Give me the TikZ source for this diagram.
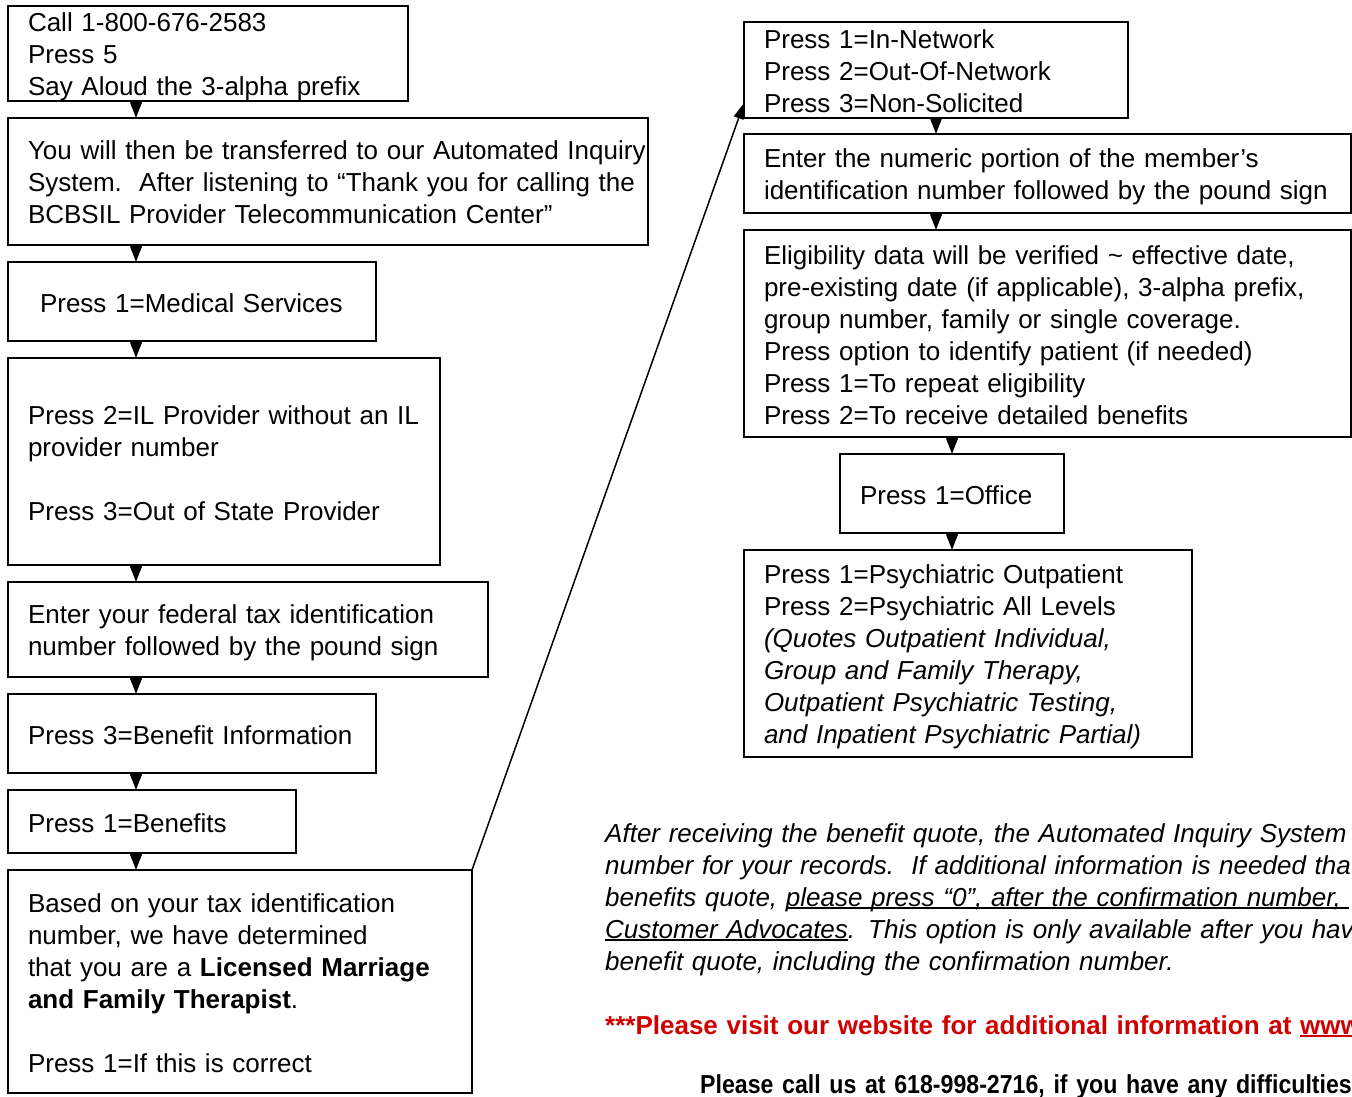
\documentclass[tikz,border=0pt]{standalone}
\usepackage{fontspec}
\setmainfont{Liberation Sans}
\newfontfamily\narrowfont{Liberation Sans}[FakeStretch=0.89]
\usetikzlibrary{arrows.meta}
\definecolor{webred}{RGB}{208,0,0}
\newcommand{\uln}[1]{\leavevmode\setbox0\hbox{#1}\rlap{\rule[-3pt]{\wd0}{2pt}}\box0}

\begin{document}
\begin{tikzpicture}[x=1pt,y=-1pt,
  box/.style={draw, line width=2pt, anchor=north west, align=left,
    inner xsep=20pt, inner ysep=0pt, outer sep=0pt,
    font=\fontsize{26}{32}\selectfont,
    execute at begin node={\rule{0pt}{25pt}},
    execute at end node={\rule[-4pt]{0pt}{4pt}}},
  note/.style={anchor=north west, align=left, text width=900pt,
    inner sep=0pt, font=\fontsize{26}{32}\selectfont,
    execute at begin node={\rule{0pt}{25pt}}},
  flow/.style={-{Triangle[length=16pt,width=12pt]}, line width=1pt},
  jump/.style={-{Triangle[length=16pt,width=10pt]}, line width=1.5pt}]
  \useasboundingbox (0,0) rectangle (1352,1097);
  \clip (0,0) rectangle (1352,1097);

  % colonne de gauche
  \node[box, text width=360pt, minimum height=95pt] (call) at (8,6)
  {Call 1-800-676-2583\\Press 5\\Say Aloud the 3-alpha prefix};
  \node[box, text width=600pt, minimum height=127pt] (transfer) at (8,118)
  {\mbox{You will then be transferred to our Automated Inquiry}\\
    \mbox{System.\ \ After listening to “Thank you for calling the}\\
    BCBSIL Provider Telecommunication Center”};
  \node[box, text width=328pt, minimum height=79pt] (medical) at (8,262)
  {\hspace*{12pt}Press 1=Medical Services};
  \node[box, text width=392pt, minimum height=207pt] (provider) at (8,358)
  {\mbox{Press 2=IL Provider without an IL}\\provider number\\[32pt]
    Press 3=Out of State Provider};
  \node[box, text width=440pt, minimum height=95pt] (taxid) at (8,582)
  {Enter your federal tax identification\\number followed by the pound sign};
  \node[box, text width=328pt, minimum height=79pt] (benefitinfo) at (8,694)
  {\mbox{Press 3=Benefit Information}};
  \node[box, text width=248pt, minimum height=63pt] (benefits) at (8,790)
  {Press 1=Benefits};
  \node[box, text width=424pt, minimum height=223pt] (therapist) at (8,870)
  {Based on your tax identification\\number, we have determined\\
    that you are a \textbf{Licensed Marriage}\\
    \textbf{and Family Therapist}.\\[32pt]Press 1=If this is correct};

  % colonne de droite
  \node[box, text width=344pt, minimum height=96pt] (network) at (744,22)
  {Press 1=In-Network\\Press 2=Out-Of-Network\\Press 3=Non-Solicited};
  \node[box, text width=567pt, minimum height=79pt] (memberid) at (744,134)
  {Enter the numeric portion of the member’s\\
    \mbox{identification number followed by the pound sign}};
  \node[box, text width=567pt, minimum height=207pt] (eligibility) at (744,230)
  {Eligibility data will be verified \textasciitilde{} effective date,\\
    pre-existing date (if applicable), 3-alpha prefix,\\
    group number, family or single coverage.\\
    Press option to identify patient (if needed)\\
    Press 1=To repeat eligibility\\Press 2=To receive detailed benefits};
  \node[box, text width=184pt, minimum height=79pt] (office) at (840,454)
  {Press 1=Office};
  \node[box, text width=408pt, minimum height=207pt] (psych) at (744,550)
  {Press 1=Psychiatric Outpatient\\Press 2=Psychiatric All Levels\\
    \textit{(Quotes Outpatient Individual,}\\\textit{Group and Family Therapy,}\\
    \textit{Outpatient Psychiatric Testing,}\\
    \textit{and Inpatient Psychiatric Partial)}};

  % fleches
  \coordinate (lcol) at (136,0);
  \coordinate (rcol) at (936,0);
  \coordinate (ocol) at (952,0);
  \foreach \a/\b in {call/transfer, transfer/medical, medical/provider,
    provider/taxid, taxid/benefitinfo, benefitinfo/benefits, benefits/therapist}
  \draw[flow] (\a.south -| lcol) -- (\b.north -| lcol);
  \foreach \a/\b in {network/memberid, memberid/eligibility}
  \draw[flow] (\a.south -| rcol) -- (\b.north -| rcol);
  \foreach \a/\b in {eligibility/office, office/psych}
  \draw[flow] (\a.south -| ocol) -- (\b.north -| ocol);
  \draw[jump] (therapist.north east) -- ([yshift=15pt]network.south west);

  % textes du bas
  \node[note] (quote) at (605,817)
  {\itshape After receiving the benefit quote, the Automated Inquiry System\\
    number for your records.\ \ If additional information is needed that\\
    benefits quote, \uln{please press “0”, after the confirmation number,\ }\\
    \uln{Customer Advocates}. This option is only available after you have\\
    benefit quote, including the confirmation number.};
  \node[note, text=webred, font=\fontsize{26}{32}\selectfont\bfseries]
  (website) at (605,1009)
  {***Please visit our website for additional information at \uln{www}};
  \node[note, font=\fontsize{26}{32}\selectfont\narrowfont\bfseries]
  (phone) at (700,1068)
  {Please call us at 618-998-2716, if you have any difficulties};
\end{tikzpicture}
\end{document}
